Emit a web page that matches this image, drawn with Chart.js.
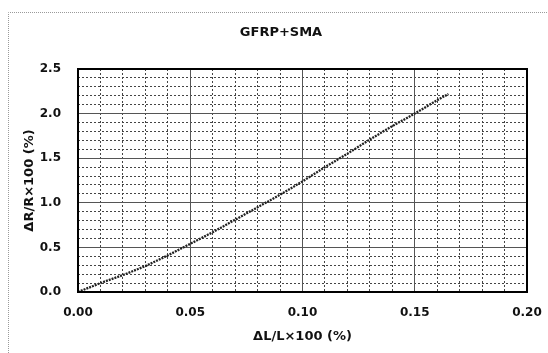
<!DOCTYPE html>
<html>
<head>
<meta charset="utf-8">
<script src="https://cdn.jsdelivr.net/npm/chart.js@4"></script>
<style>
  html, body { margin: 0; padding: 0; background: #fff; }
  #wrap { width: 548px; height: 353px; position: relative; }
</style>
</head>
<body>
<div id="wrap"><canvas id="c" width="548" height="353"></canvas></div>
<script>
const chartTitle = 'GFRP+SMA';
const xAxisTitle = 'ΔL/L×100 (%)';
const yAxisTitle = 'ΔR/R×100 (%)';
const strainValues = [0, 0.01, 0.02, 0.03, 0.04, 0.05, 0.06, 0.07, 0.08, 0.09, 0.10, 0.11, 0.12, 0.13, 0.14, 0.15, 0.16, 0.165];
const resistanceValues = [0, 0.10, 0.19, 0.29, 0.41, 0.54, 0.67, 0.81, 0.95, 1.09, 1.24, 1.40, 1.55, 1.71, 1.86, 2.00, 2.15, 2.22];
const xTickValues = [0.00, 0.05, 0.10, 0.15, 0.20];
const yTickValues = [0.0, 0.5, 1.0, 1.5, 2.0, 2.5];

const points = strainValues.map((x, i) => ({ x: x, y: resistanceValues[i] }));

function isMajor(v, step) {
  const r = v / step;
  return Math.abs(r - Math.round(r)) < 1e-6;
}

const framePlugin = {
  id: 'frame',
  beforeDraw(chart) {
    const ctx = chart.ctx;
    ctx.save();
    ctx.fillStyle = '#fff';
    ctx.fillRect(0, 0, chart.width, chart.height);
    ctx.strokeStyle = '#9a9a9a';
    ctx.lineWidth = 1;
    ctx.setLineDash([1, 1]);
    ctx.beginPath();
    ctx.moveTo(8.5, 353);
    ctx.lineTo(8.5, 12.5);
    ctx.lineTo(548, 12.5);
    ctx.stroke();
    ctx.restore();
  },
  afterDraw(chart) {
    const ctx = chart.ctx;
    const a = chart.chartArea;
    ctx.save();
    ctx.strokeStyle = '#000';
    ctx.lineWidth = 2;
    ctx.strokeRect(a.left, a.top, a.right - a.left, a.bottom - a.top);
    ctx.fillStyle = '#111';
    ctx.font = 'bold 13px "DejaVu Sans"';
    ctx.textAlign = 'center';
    ctx.textBaseline = 'middle';
    ctx.fillText(chartTitle, 281, 33);
    ctx.restore();
  }
};

const tickFont = { family: 'DejaVu Sans', size: 12, weight: 'bold' };
const titleFont = { family: 'DejaVu Sans', size: 13, weight: 'bold' };

function noPad(s) { s.paddingLeft = 0; s.paddingRight = 0; s.paddingTop = 0; s.paddingBottom = 0; }

new Chart(document.getElementById('c'), {
  type: 'scatter',
  data: {
    datasets: [{
      data: points,
      showLine: true,
      borderColor: '#222',
      borderWidth: 2.3,
      borderDash: [2, 1],
      pointRadius: 0,
      tension: 0,
      xAxisID: 'x',
      yAxisID: 'y'
    }]
  },
  options: {
    responsive: false,
    animation: false,
    devicePixelRatio: 1,
    layout: { padding: { top: 69, right: 21, left: 0, bottom: 0 } },
    plugins: { legend: { display: false }, tooltip: { enabled: false }, title: { display: false } },
    scales: {
      xMinor: {
        type: 'linear', position: 'bottom', min: 0, max: 0.2,
        ticks: { display: false, stepSize: 0.01 },
        grid: {
          drawTicks: false,
          color: (c) => isMajor(c.tick.value, 0.05) ? 'rgba(0,0,0,0)' : '#444',
          lineWidth: 1
        },
        border: { display: false, dash: [2, 2] },
        afterFit: (s) => { s.height = 0; noPad(s); }
      },
      yMinor: {
        type: 'linear', position: 'left', min: 0, max: 2.5,
        ticks: { display: false, stepSize: 0.1 },
        grid: {
          drawTicks: false,
          color: (c) => isMajor(c.tick.value, 0.5) ? 'rgba(0,0,0,0)' : '#444',
          lineWidth: 1
        },
        border: { display: false, dash: [2, 2] },
        afterFit: (s) => { s.width = 0; noPad(s); }
      },
      x: {
        type: 'linear', position: 'bottom', min: 0, max: 0.2,
        afterBuildTicks: (s) => { s.ticks = xTickValues.map(v => ({ value: v })); },
        ticks: { font: tickFont, color: '#111', padding: 14, maxRotation: 0,
                 callback: (v) => Number(v).toFixed(2) },
        grid: { drawTicks: false, color: '#555', lineWidth: 1 },
        border: { display: true, color: '#000', width: 2 },
        title: { display: true, text: xAxisTitle, font: titleFont, color: '#111',
                 padding: { top: 0, bottom: 9 } },
        afterFit: (s) => { s.height = 61; noPad(s); }
      },
      y: {
        type: 'linear', position: 'left', min: 0, max: 2.5,
        afterBuildTicks: (s) => { s.ticks = yTickValues.map(v => ({ value: v })); },
        ticks: { font: tickFont, color: '#111', padding: 17,
                 callback: (v) => Number(v).toFixed(1) },
        grid: { drawTicks: false, color: '#555', lineWidth: 1 },
        border: { display: true, color: '#000', width: 2 },
        title: { display: true, text: yAxisTitle, font: titleFont, color: '#111',
                 padding: { top: 22, bottom: 0 } },
        afterFit: (s) => { s.width = 78; noPad(s); }
      }
    }
  },
  plugins: [framePlugin]
});
</script>
</body>
</html>
